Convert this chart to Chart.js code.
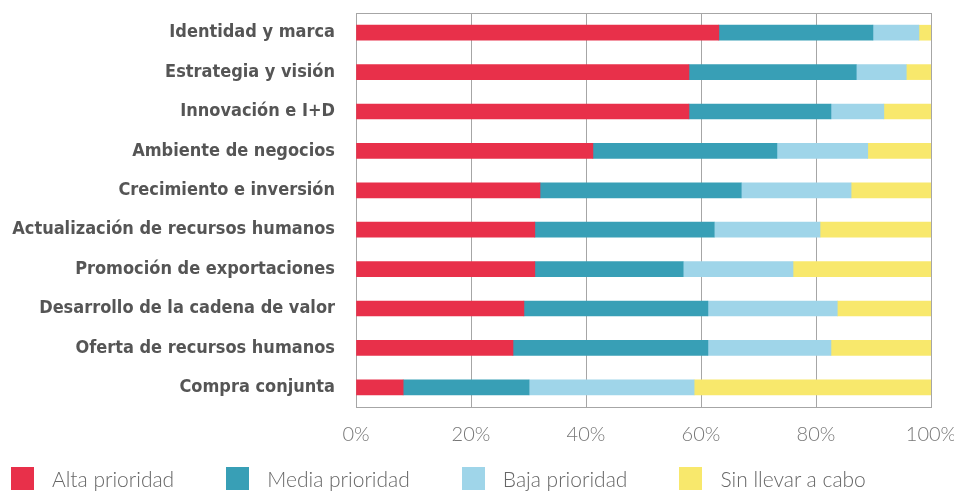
<!DOCTYPE html>
<html>
<head>
<meta charset="utf-8">
<script src="https://cdn.jsdelivr.net/npm/chart.js@4/dist/chart.umd.min.js"></script>
<style>
  html, body { margin: 0; padding: 0; background: #fff; }
  #wrap { position: relative; width: 954px; height: 492px; }
  canvas { display: block; }
  #legend { position: absolute; left: 11px; top: 467px; display: flex; font-family: Lato, sans-serif; font-weight: 300; font-size: 21px; line-height: 23px; color: #666; }
  #legend .item { display: flex; align-items: center; margin-right: 52px; }
  #legend .box { width: 23px; height: 23px; margin-right: 18px; }
</style>
</head>
<body>
<div id="wrap">
  <canvas id="chart" width="954" height="492"></canvas>
  <div id="legend"></div>
</div>
<script>
    // Categories, top to bottom
    const categories = [
        'Identidad y marca', 'Estrategia y visión', 'Innovación e I+D', 'Ambiente de negocios',
        'Crecimiento e inversión', 'Actualización de recursos humanos', 'Promoción de exportaciones',
        'Desarrollo de la cadena de valor', 'Oferta de recursos humanos', 'Compra conjunta'
    ];

    const seriesNames = ['Alta prioridad', 'Media prioridad', 'Baja prioridad', 'Sin llevar a cabo'];
    const seriesColors = ['#e8304a', '#389fb6', '#9fd5e9', '#f8e86c'];

    // shares in %
    const alta = [63.1, 57.9, 57.9, 41.2, 32.0, 31.1, 31.1, 29.2, 27.3, 8.2];
    const media = [26.8, 29.1, 24.7, 32.0, 35.0, 31.2, 25.8, 32.0, 33.9, 21.9];
    const baja = [8.0, 8.7, 9.2, 15.8, 19.1, 18.4, 19.1, 22.5, 21.4, 28.7];
    const sinLlevar = [2.1, 4.3, 8.2, 11.0, 13.9, 19.3, 24.0, 16.3, 17.4, 41.2];

    const xTicks = [0, 20, 40, 60, 80, 100];

    const gridColor = '#a6a6a6';

    // box round the plot area
    const frame = {
        id: 'frame',
        beforeDatasetsDraw(chart) {
            const a = chart.chartArea;
            const ctx = chart.ctx;
            ctx.save();
            ctx.strokeStyle = gridColor;
            ctx.lineWidth = 1;
            ctx.strokeRect(Math.round(a.left) + 0.5, Math.round(a.top) + 0.5, Math.round(a.right - a.left), Math.round(a.bottom - a.top));
            ctx.restore();
        }
    };

    const allData = [alta, media, baja, sinLlevar];

    new Chart(document.getElementById('chart').getContext('2d'), {
        type: 'bar',
        data: {
            labels: categories,
            datasets: seriesNames.map((name, i) => ({
                label: name,
                data: allData[i],
                backgroundColor: seriesColors[i],
                borderWidth: 0,
                barThickness: 15
            }))
        },
        options: {
            indexAxis: 'y',
            responsive: false,
            animation: false,
            layout: { padding: { top: 13, bottom: 43, left: 0 } },
            plugins: {
                legend: { display: false },
                tooltip: { enabled: false }
            },
            scales: {
                x: {
                    stacked: true,
                    min: 0,
                    max: 100,
                    afterBuildTicks: axis => { axis.ticks = xTicks.map(v => ({ value: v })); },
                    afterFit: axis => {
                        axis.height = 42;
                        axis.paddingRight = 23;
                    },
                    grid: { color: gridColor, drawTicks: false },
                    border: { color: gridColor },
                    ticks: {
                        padding: 16,
                        maxRotation: 0,
                        color: '#777',
                        font: { family: 'Lato', weight: '300', size: 20 },
                        callback: v => v + '%'
                    }
                },
                y: {
                    stacked: true,
                    afterFit: axis => {
                        axis.width = 356;
                        axis.paddingTop = 0;
                        axis.paddingBottom = 0;
                    },
                    grid: { display: false, drawTicks: false },
                    border: { color: gridColor },
                    ticks: {
                        padding: 21,
                        color: '#555',
                        font: { family: 'DejaVu Sans Condensed', weight: 'bold', size: 18 }
                    }
                }
            }
        },
        plugins: [frame]
    });

    // legend
    const legend = document.getElementById('legend');
    seriesNames.forEach((name, i) => {
        const item = document.createElement('div');
        item.className = 'item';
        const box = document.createElement('span');
        box.className = 'box';
        box.style.background = seriesColors[i];
        const txt = document.createElement('span');
        txt.textContent = name;
        item.appendChild(box);
        item.appendChild(txt);
        legend.appendChild(item);
    });
</script>
</body>
</html>
